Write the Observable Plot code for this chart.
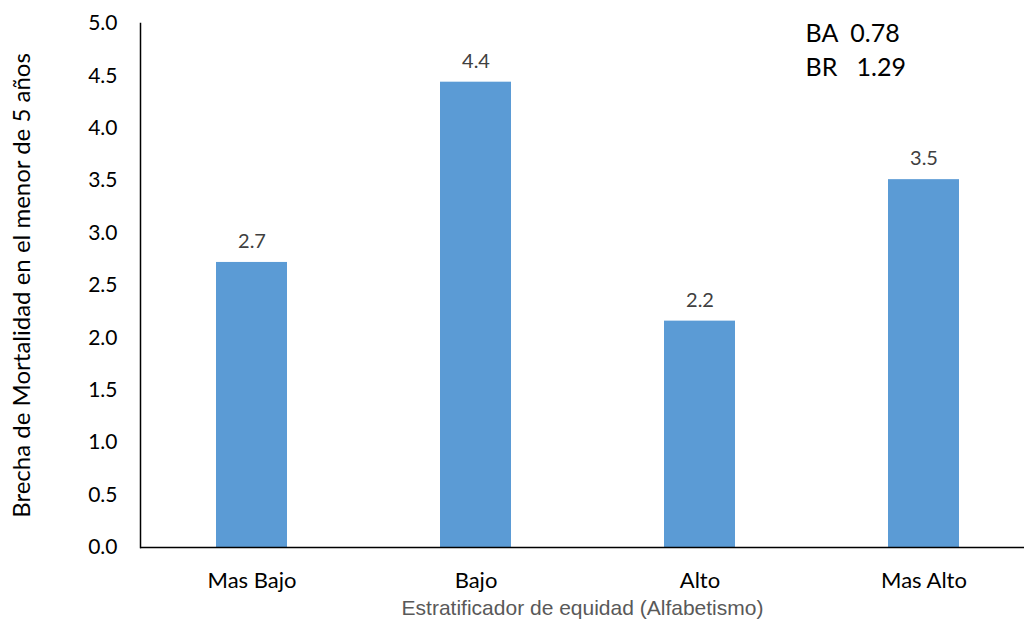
<!DOCTYPE html>
<html>
<head>
<meta charset="utf-8">
<script src="https://cdn.jsdelivr.net/npm/d3@7"></script>
<script src="https://cdn.jsdelivr.net/npm/@observablehq/plot@0.6"></script>
<style>
  html, body { margin: 0; padding: 0; background: #fff; }
  #chart { position: relative; width: 1024px; height: 625px; overflow: hidden; }
</style>
</head>
<body>
<div id="chart"></div>
<script>
// Literacy equity strata and the under-5 mortality gap for each
const estratos = ["Mas Bajo", "Bajo", "Alto", "Mas Alto"];
const brecha = [2.72, 4.44, 2.16, 3.51];
const yTicks = [0, 0.5, 1, 1.5, 2, 2.5, 3, 3.5, 4, 4.5, 5];
// Summary inequality indicators
const indicadorBA = "BA  0.78";
const indicadorBR = "BR   1.29";

const data = estratos.map((e, i) => ({estrato: e, valor: brecha[i]}));
const fmt = d3.format(".1f");
const font = "Lato, 'Open Sans', sans-serif";

const plot = Plot.plot({
  width: 1024,
  height: 625,
  marginLeft: 140,
  marginRight: 0,
  marginTop: 23,
  marginBottom: 78,
  style: {fontFamily: font, fontSize: "21px", color: "#000", background: "#fff"},
  x: {domain: estratos, range: [140, 1036], paddingInner: 0.683, paddingOuter: 0.3415, label: null},
  y: {domain: [0, 5], label: null},
  marks: [
    Plot.barY(data, {x: "estrato", y: "valor", fill: "#5b9bd5"}),
    Plot.text(data, {
      x: "estrato", y: "valor", text: d => fmt(d.valor),
      dy: -21, fill: "#404040", fontSize: 20
    }),
    Plot.axisY({
      ticks: yTicks, tickFormat: fmt, tickSize: 0, tickPadding: 23,
      fontSize: 21, label: null
    }),
    Plot.axisX({tickSize: 0, tickPadding: 25, fontSize: 22, label: null}),
    Plot.frame({anchor: "left", stroke: "#000", strokeWidth: 1.5}),
    Plot.ruleY([0], {stroke: "#000", strokeWidth: 1.5}),
    Plot.text(["Estratificador de equidad (Alfabetismo)"], {
      frameAnchor: "bottom", dy: 67, fill: "#595959",
      fontFamily: "'Liberation Sans', Arial, sans-serif", fontSize: 21
    }),
    Plot.text(["Brecha de Mortalidad en el menor de 5 años"], {
      frameAnchor: "left", textAnchor: "middle", rotate: -90,
      dx: -118, fill: "#000", fontSize: 24
    }),
    Plot.text([indicadorBA], {
      frameAnchor: "top-left", textAnchor: "start", lineAnchor: "middle",
      dx: 665, dy: 10, fill: "#000", fontSize: 25
    }),
    Plot.text([indicadorBR], {
      frameAnchor: "top-left", textAnchor: "start", lineAnchor: "middle",
      dx: 665, dy: 44, fill: "#000", fontSize: 25
    })
  ]
});

document.getElementById("chart").appendChild(plot);
</script>
</body>
</html>
